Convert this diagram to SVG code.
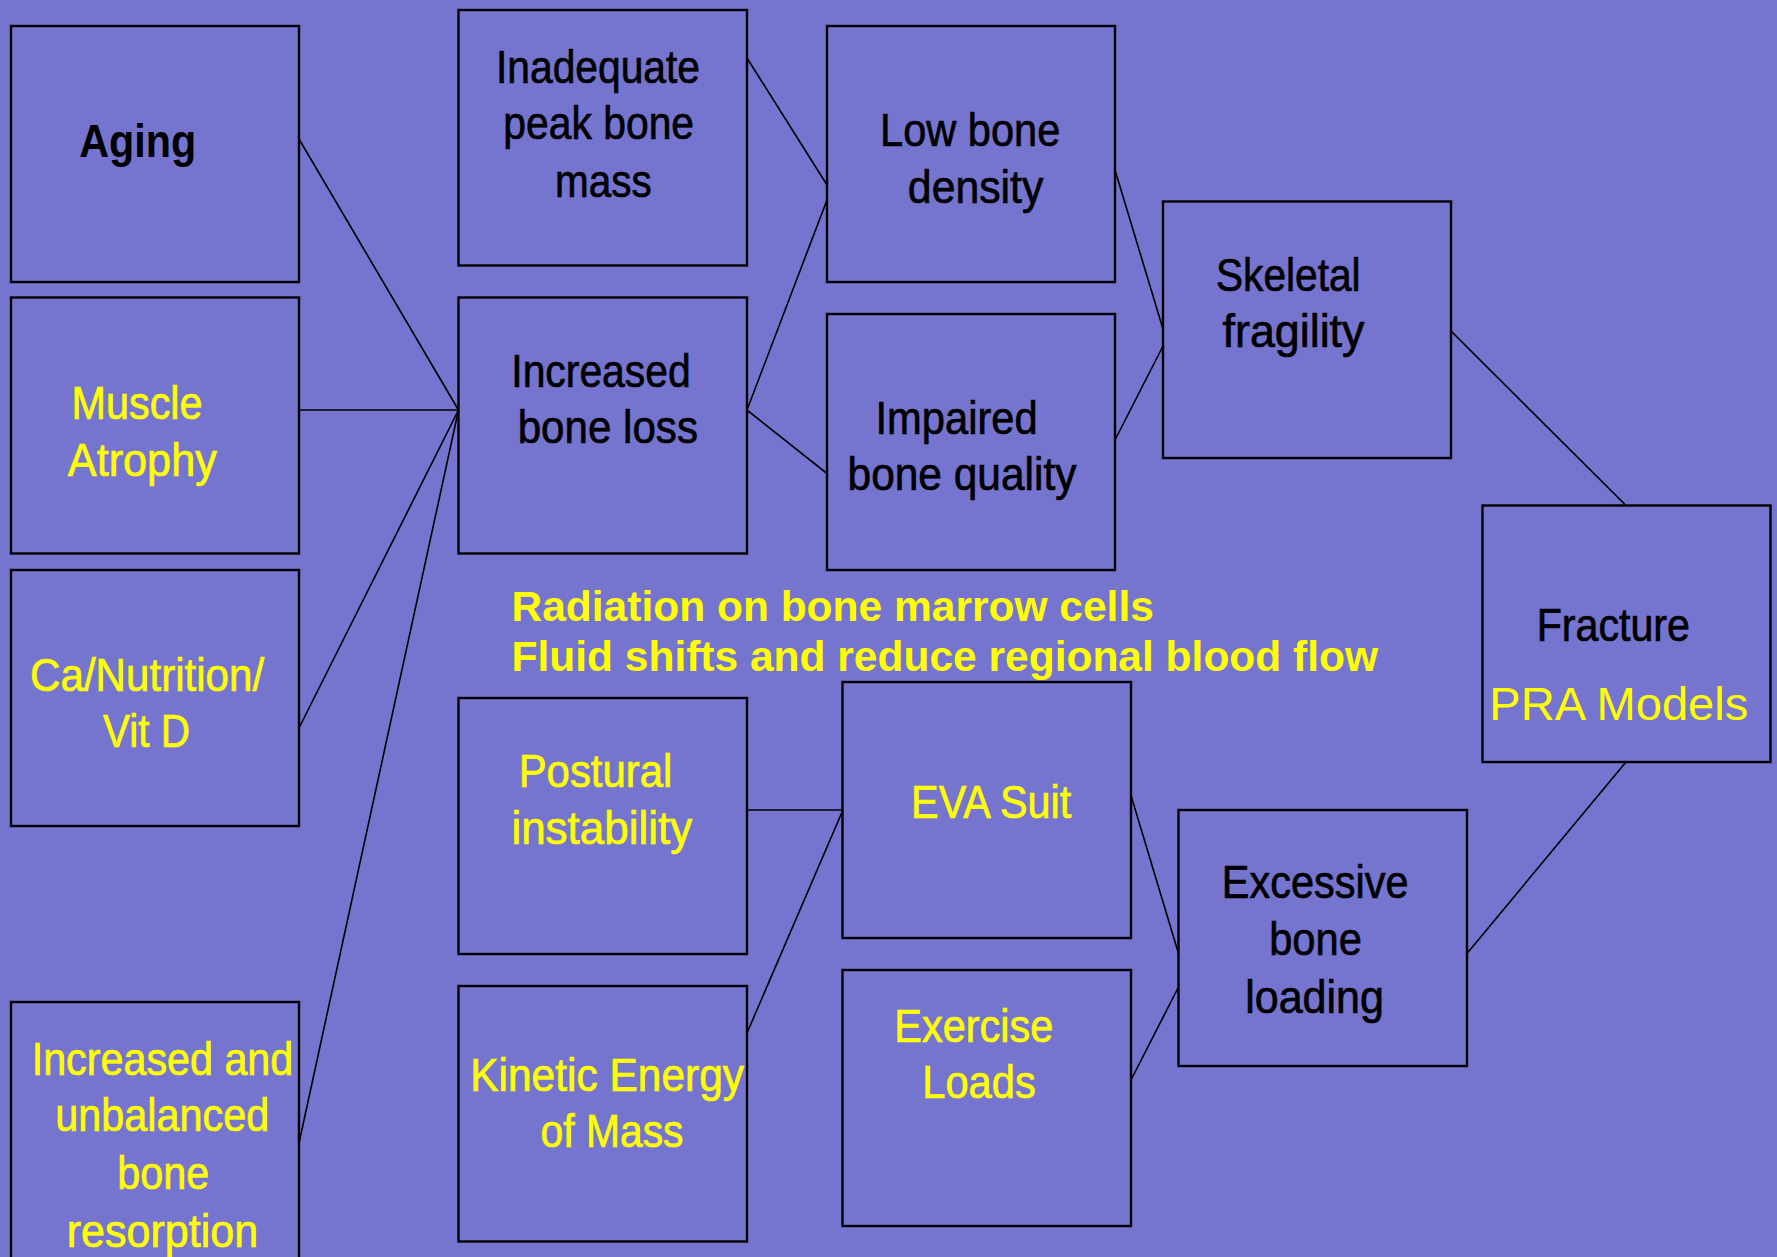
<svg xmlns="http://www.w3.org/2000/svg" width="1777" height="1257" viewBox="0 0 1777 1257">
<style>
.box{fill:#7575cf;stroke:#000;stroke-width:2.4}
.c line{stroke:#000;stroke-width:1.6}
text{font-family:"Liberation Sans",Arial,sans-serif;text-anchor:middle}
.k{fill:#000;stroke:#000;stroke-width:0.7;font-size:46.5px}
.y{fill:#ff0;stroke:#ff0;stroke-width:0.7;font-size:46.5px}
.yp{fill:#ff0;font-size:46.5px}
.kb{fill:#000;font-size:46px;font-weight:bold}
.yb{fill:#ff0;font-size:42.5px;font-weight:bold;text-anchor:start}
</style>
<rect width="1777" height="1257" fill="#7575cf"/>
<g class="c" id="connectors">
<line x1="299" y1="139" x2="458.5" y2="410"/>
<line x1="299" y1="410" x2="458.5" y2="410"/>
<line x1="299" y1="728" x2="458.5" y2="410"/>
<line x1="299" y1="1143" x2="458.5" y2="410"/>
<line x1="747" y1="58" x2="827" y2="185"/>
<line x1="747" y1="410" x2="827" y2="200"/>
<line x1="747" y1="410" x2="827" y2="473.5"/>
<line x1="1115" y1="170" x2="1163" y2="329"/>
<line x1="1115" y1="440" x2="1163" y2="346"/>
<line x1="1451" y1="331" x2="1626" y2="505.5"/>
<line x1="731" y1="810" x2="842.5" y2="810"/>
<line x1="747" y1="1033" x2="842.5" y2="811"/>
<line x1="1131" y1="795.5" x2="1178.5" y2="953.5"/>
<line x1="1131" y1="1080" x2="1178.5" y2="987"/>
<line x1="1467" y1="953.5" x2="1626" y2="762"/>
</g>
<g id="aging"><rect class="box" x="11" y="26" width="288" height="256"/>
<text class="kb" x="137.7" y="157" textLength="117" lengthAdjust="spacingAndGlyphs">Aging</text></g>
<g id="muscle-atrophy"><rect class="box" x="11" y="297.5" width="288" height="256"/>
<text class="y" x="137" y="419" textLength="131" lengthAdjust="spacingAndGlyphs">Muscle</text>
<text class="y" x="142.3" y="475.5" textLength="149" lengthAdjust="spacingAndGlyphs">Atrophy</text></g>
<g id="ca-nutrition"><rect class="box" x="11" y="570" width="288" height="256"/>
<text class="y" x="147.1" y="691" textLength="234" lengthAdjust="spacingAndGlyphs">Ca/Nutrition/</text>
<text class="y" x="146.6" y="746.7" textLength="87" lengthAdjust="spacingAndGlyphs">Vit D</text></g>
<g id="unbalanced-resorption"><rect class="box" x="11" y="1002" width="288" height="300"/>
<text class="y" x="162.5" y="1075" textLength="261.6" lengthAdjust="spacingAndGlyphs">Increased and</text>
<text class="y" x="162.2" y="1131" textLength="214" lengthAdjust="spacingAndGlyphs">unbalanced</text>
<text class="y" x="163.3" y="1189" textLength="92" lengthAdjust="spacingAndGlyphs">bone</text>
<text class="y" x="162.5" y="1246.5" textLength="191.6" lengthAdjust="spacingAndGlyphs">resorption</text></g>
<g id="inadequate-peak"><rect class="box" x="458.5" y="10" width="288.5" height="255.5"/>
<text class="k" x="598" y="82.7" textLength="204" lengthAdjust="spacingAndGlyphs">Inadequate</text>
<text class="k" x="598.7" y="139.3" textLength="190.7" lengthAdjust="spacingAndGlyphs">peak bone</text>
<text class="k" x="603.3" y="196.7" textLength="96.7" lengthAdjust="spacingAndGlyphs">mass</text></g>
<g id="increased-bone-loss"><rect class="box" x="458.5" y="297.5" width="288.5" height="256"/>
<text class="k" x="601" y="386.7" textLength="179.4" lengthAdjust="spacingAndGlyphs">Increased</text>
<text class="k" x="607.8" y="443" textLength="180.3" lengthAdjust="spacingAndGlyphs">bone loss</text></g>
<g id="postural"><rect class="box" x="458.5" y="698" width="288.5" height="256"/>
<text class="y" x="595.5" y="786.7" textLength="153.7" lengthAdjust="spacingAndGlyphs">Postural</text>
<text class="y" x="601.8" y="843.6" textLength="180.8" lengthAdjust="spacingAndGlyphs">instability</text></g>
<g id="kinetic"><rect class="box" x="458.5" y="986" width="288.5" height="255.5"/>
<text class="y" x="607.1" y="1091.2" textLength="273.8" lengthAdjust="spacingAndGlyphs">Kinetic Energy</text>
<text class="y" x="612" y="1146.7" textLength="143" lengthAdjust="spacingAndGlyphs">of Mass</text></g>
<g id="low-density"><rect class="box" x="827" y="26" width="288" height="256"/>
<text class="k" x="970.2" y="146.2" textLength="180.3" lengthAdjust="spacingAndGlyphs">Low bone</text>
<text class="k" x="975.6" y="202.8" textLength="135.5" lengthAdjust="spacingAndGlyphs">density</text></g>
<g id="impaired"><rect class="box" x="827" y="314" width="288" height="256"/>
<text class="k" x="956.6" y="433.6" textLength="162.1" lengthAdjust="spacingAndGlyphs">Impaired</text>
<text class="k" x="962" y="490.3" textLength="228.9" lengthAdjust="spacingAndGlyphs">bone quality</text></g>
<g id="eva"><rect class="box" x="842.5" y="682" width="288.5" height="256"/>
<text class="y" x="991.2" y="817.8" textLength="160.2" lengthAdjust="spacingAndGlyphs">EVA Suit</text></g>
<g id="exercise"><rect class="box" x="842.5" y="970" width="288.5" height="256"/>
<text class="y" x="973.8" y="1042.3" textLength="158.9" lengthAdjust="spacingAndGlyphs">Exercise</text>
<text class="y" x="979" y="1097.8" textLength="113.5" lengthAdjust="spacingAndGlyphs">Loads</text></g>
<g id="skeletal"><rect class="box" x="1163" y="201.5" width="288" height="256.5"/>
<text class="k" x="1288.3" y="290.5" textLength="144.6" lengthAdjust="spacingAndGlyphs">Skeletal</text>
<text class="k" x="1293.5" y="347" textLength="142" lengthAdjust="spacingAndGlyphs">fragility</text></g>
<g id="excessive"><rect class="box" x="1178.5" y="810" width="288.5" height="256"/>
<text class="k" x="1315.2" y="897.8" textLength="186.8" lengthAdjust="spacingAndGlyphs">Excessive</text>
<text class="k" x="1315.5" y="954.7" textLength="92.7" lengthAdjust="spacingAndGlyphs">bone</text>
<text class="k" x="1314.6" y="1012.5" textLength="138.8" lengthAdjust="spacingAndGlyphs">loading</text></g>
<g id="fracture"><rect class="box" x="1482.5" y="505.5" width="288" height="256.5"/>
<text class="k" x="1613.3" y="641" textLength="153.3" lengthAdjust="spacingAndGlyphs">Fracture</text>
<text class="yp" x="1618.8" y="720" textLength="259" lengthAdjust="spacingAndGlyphs">PRA Models</text></g>
<g id="radiation-note">
<text class="yb" x="511.5" y="620.7">Radiation on bone marrow cells</text>
<text class="yb" x="511.5" y="670.7">Fluid shifts and reduce regional blood flow</text>
</g>
</svg>
